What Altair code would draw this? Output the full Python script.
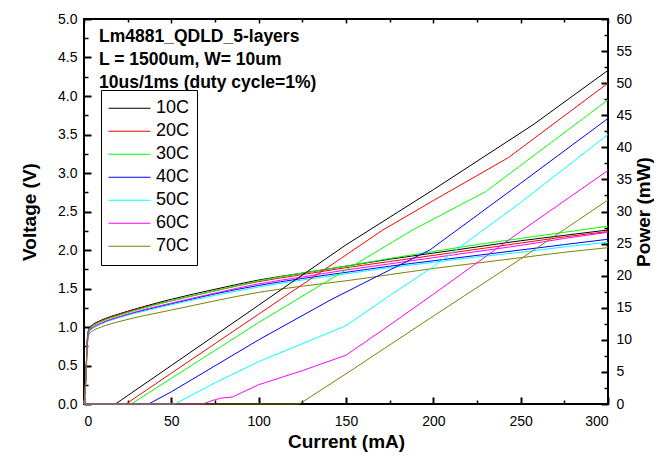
import altair as alt
import pandas as pd

FONT = "Liberation Sans"

series = ["10C", "20C", "30C", "40C", "50C", "60C", "70C"]
colors = ["#000000", "#FF0000", "#00FF00", "#0000FF", "#00FFFF", "#FF00FF", "#808000"]

# Voltage (V) vs current (mA)
current_v = [0, 1, 2, 3, 5, 10, 20, 35, 50, 75, 100, 125, 150, 175, 200, 225, 250, 275, 300]
volt_10 = [0, 0.35, 0.88, 0.99, 1.03, 1.09, 1.17, 1.27, 1.36, 1.49, 1.61, 1.70, 1.79, 1.88, 1.96, 2.04, 2.12, 2.19, 2.26]
volt_20 = [0, 0.33, 0.86, 0.98, 1.02, 1.08, 1.16, 1.26, 1.34, 1.47, 1.59, 1.68, 1.77, 1.85, 1.93, 2.01, 2.09, 2.17, 2.24]
volt_30 = [0, 0.32, 0.85, 0.97, 1.01, 1.07, 1.15, 1.25, 1.34, 1.47, 1.60, 1.70, 1.79, 1.89, 1.98, 2.07, 2.15, 2.23, 2.31]
volt_40 = [0, 0.30, 0.83, 0.95, 0.99, 1.05, 1.13, 1.22, 1.30, 1.43, 1.54, 1.63, 1.71, 1.79, 1.86, 1.93, 2.00, 2.07, 2.14]
volt_50 = [0, 0.29, 0.82, 0.94, 0.98, 1.04, 1.12, 1.21, 1.29, 1.41, 1.52, 1.61, 1.69, 1.77, 1.84, 1.91, 1.97, 2.04, 2.10]
volt_60 = [0, 0.30, 0.83, 0.95, 0.99, 1.05, 1.13, 1.23, 1.31, 1.44, 1.56, 1.65, 1.74, 1.82, 1.90, 1.98, 2.06, 2.15, 2.23]
volt_70 = [0, 0.27, 0.78, 0.91, 0.95, 1.00, 1.07, 1.15, 1.22, 1.34, 1.45, 1.53, 1.60, 1.68, 1.76, 1.83, 1.90, 1.97, 2.03]
voltages = [volt_10, volt_20, volt_30, volt_40, volt_50, volt_60, volt_70]

# Power (mW) vs current (mA)
pcur_10 = [0, 18, 50, 100, 150, 200, 257, 300]
pow_10 = [0, 0, 6.0, 15.4, 24.8, 33.4, 43.5, 52.0]
pcur_20 = [0, 24, 50, 100, 171, 200, 243, 300]
pow_20 = [0, 0, 4.8, 14.0, 27.1, 31.7, 38.4, 50.0]
pcur_30 = [0, 27, 50, 100, 150, 188, 230, 300]
pow_30 = [0, 0, 4.0, 12.7, 20.9, 27.1, 33.1, 47.4]
pcur_40 = [0, 37, 50, 100, 141, 170, 198, 250, 300]
pow_40 = [0, 0, 1.9, 10.0, 16.2, 20.2, 24.0, 34.4, 44.5]
pcur_50 = [0, 52, 75, 100, 125, 150, 175, 200, 250, 300]
pow_50 = [0, 0, 3.3, 6.6, 9.4, 12.2, 16.9, 21.4, 31.4, 42.0]
pcur_60 = [0, 68, 72, 78, 85, 100, 125, 150, 175, 200, 250, 300]
pow_60 = [0, 0, 0.4, 0.9, 1.1, 3.0, 5.2, 7.6, 12.3, 17.1, 26.9, 36.4]
pcur_70 = [0, 123, 125, 150, 200, 250, 300]
pow_70 = [0, 0, 0.3, 4.7, 13.7, 22.6, 31.8]
pcurs = [pcur_10, pcur_20, pcur_30, pcur_40, pcur_50, pcur_60, pcur_70]
pows = [pow_10, pow_20, pow_30, pow_40, pow_50, pow_60, pow_70]

x_major = [0, 50, 100, 150, 200, 250, 300]
x_minor = [25, 75, 125, 175, 225, 275]
v_major = [0, 0.5, 1.0, 1.5, 2.0, 2.5, 3.0, 3.5, 4.0, 4.5, 5.0]
v_minor = [0.25, 0.75, 1.25, 1.75, 2.25, 2.75, 3.25, 3.75, 4.25, 4.75]
p_major = [0, 5, 10, 15, 20, 25, 30, 35, 40, 45, 50, 55, 60]
p_minor = [2.5, 7.5, 12.5, 17.5, 22.5, 27.5, 32.5, 37.5, 42.5, 47.5, 52.5, 57.5]

annotation = ["Lm4881_QDLD_5-layers", "L = 1500um, W= 10um", "10us/1ms (duty cycle=1%)"]

rows_v = []
for s, vals in zip(series, voltages):
    for i, v in zip(current_v, vals):
        rows_v.append({"series": s, "current": i, "voltage": v})
df_v = pd.DataFrame(rows_v)

rows_p = []
for s, cs, ps in zip(series, pcurs, pows):
    for i, p in zip(cs, ps):
        rows_p.append({"series": s, "current": i, "power": p})
df_p = pd.DataFrame(rows_p)

xscale = alt.Scale(domain=[0, 300], nice=False, zero=False)
vscale = alt.Scale(domain=[0, 5], nice=False)
pscale = alt.Scale(domain=[0, 60], nice=False)

legend = alt.Legend(
    orient="none", legendX=17, legendY=71, title=None,
    symbolType="stroke", symbolSize=1764, symbolStrokeWidth=1,
    labelFont=FONT, labelFontSize=18, labelColor="black", labelOffset=5,
    strokeColor="black", fillColor="white", padding=7, clipHeight=22.5,
    rowPadding=0,
)
color = alt.Color("series:N", scale=alt.Scale(domain=series, range=colors), legend=legend)

base_axis = dict(domain=False, grid=False, tickColor="black",
                 labelFont=FONT, labelFontSize=14, labelColor="black",
                 titleFont=FONT, titleFontSize=19, titleFontWeight="bold", titleColor="black")

# Layer 1: voltage curves, bottom major ticks, left major ticks
volt_lines = alt.Chart(df_v).mark_line(strokeWidth=1, interpolate="monotone").encode(
    x=alt.X("current:Q", scale=xscale,
            axis=alt.Axis(orient="bottom", values=x_major, format="d", tickSize=7, tickWidth=2,
                          offset=-7, labelPadding=10, title="Current (mA)", titlePadding=4, **base_axis)),
    y=alt.Y("voltage:Q", scale=vscale,
            axis=alt.Axis(orient="left", values=v_major, format=".1f", tickSize=7, tickWidth=2,
                          offset=-7, labelPadding=7, title="Voltage (V)", titlePadding=18, **base_axis)),
    color=color,
    order=alt.Order("current:Q"),
)

# Layer 2: invisible voltage, minor ticks bottom / left
volt_minor = alt.Chart(df_v).mark_line(opacity=0).encode(
    x=alt.X("current:Q", scale=xscale,
            axis=alt.Axis(orient="bottom", values=x_minor, labels=False, tickSize=4, tickWidth=1.5,
                          offset=-4, title=None, **base_axis)),
    y=alt.Y("voltage:Q", scale=vscale,
            axis=alt.Axis(orient="left", values=v_minor, labels=False, tickSize=4, tickWidth=1.5,
                          offset=-4, title=None, **base_axis)),
    detail="series:N",
)

# Layer 3: power curves, top major ticks, right major ticks
pow_lines = alt.Chart(df_p).mark_line(strokeWidth=1).encode(
    x=alt.X("current:Q", scale=xscale,
            axis=alt.Axis(orient="top", values=x_major, labels=False, tickSize=4, tickWidth=1.5,
                          offset=-4, title=None, **base_axis)),
    y=alt.Y("power:Q", scale=pscale,
            axis=alt.Axis(orient="right", values=p_major, format="d", tickSize=7, tickWidth=2,
                          offset=-7, labelPadding=8, title="Power (mW)", titleAngle=270,
                          titleBaseline="top", titlePadding=3, **base_axis)),
    color=color,
    order=alt.Order("current:Q"),
)

# Layer 4: invisible power, minor ticks top / right
pow_minor = alt.Chart(df_p).mark_line(opacity=0).encode(
    x=alt.X("current:Q", scale=xscale,
            axis=alt.Axis(orient="top", values=x_minor, labels=False, tickSize=3, tickWidth=1.5,
                          offset=-3, title=None, **base_axis)),
    y=alt.Y("power:Q", scale=pscale,
            axis=alt.Axis(orient="right", values=p_minor, labels=False, tickSize=4, tickWidth=1.5,
                          offset=-4, title=None, **base_axis)),
    detail="series:N",
)

note = alt.Chart(pd.DataFrame({"a": [0]})).mark_text(
    align="left", baseline="top", font=FONT, fontSize=17.5, fontWeight="bold",
    color="black", lineHeight=23,
).encode(x=alt.value(15), y=alt.value(9), text=alt.value(annotation))

chart = alt.layer(volt_lines, volt_minor, pow_lines, pow_minor, note).resolve_scale(
    y="independent"
).resolve_axis(
    x="independent", y="independent"
).properties(
    width=524, height=385,
    autosize=alt.AutoSizeParams(type="none"),
    padding={"left": 76, "top": 11, "right": 46, "bottom": 48},
    background="white",
).configure_view(stroke="black", strokeWidth=2)

chart.save("out.html", embed_options={"renderer": "svg", "actions": False})
